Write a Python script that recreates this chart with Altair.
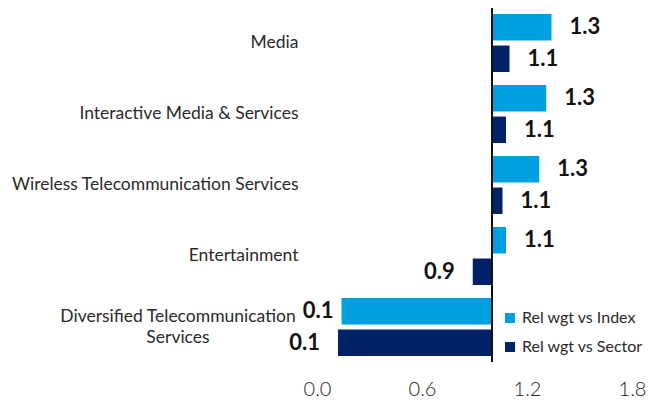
import altair as alt
import pandas as pd

categories = ["Media", "Interactive Media & Services", "Wireless Telecommunication Services",
              "Entertainment", "Diversified Telecommunication Services"]
series = ["Rel wgt vs Index", "Rel wgt vs Sector"]
vs_index = [1.34, 1.31, 1.27, 1.08, 0.14]
vs_sector = [1.10, 1.08, 1.06, 0.89, 0.12]
x_ticks = [0.0, 0.6, 1.2, 1.8]
baseline = 1.0

rows = []
for c, a, b in zip(categories, vs_index, vs_sector):
    rows.append({"cat": c, "series": series[0], "value": a})
    rows.append({"cat": c, "series": series[1], "value": b})
df = pd.DataFrame(rows)

FONT = "Lato"
colors = ["#009FDF", "#012169"]

yscale = alt.Scale(domain=categories, paddingInner=0.183, paddingOuter=0.085)
y = alt.Y("cat:N", sort=categories, scale=yscale, title=None,
          axis=alt.Axis(ticks=False, domain=False, labelPadding=19, labelFontSize=17.5,
                        labelFont=FONT, labelFontWeight="normal", labelColor="#2a2a2a", labelLimit=400,
                        labelExpr="datum.value == 'Diversified Telecommunication Services' ? '' : datum.value"))
yoff = alt.YOffset("series:N", sort=series, scale=alt.Scale(domain=series, paddingInner=0.16))
xscale = alt.Scale(domain=[0, 1.8], nice=False, zero=False)
x = alt.X("value:Q", scale=xscale, title=None,
          axis=alt.Axis(values=x_ticks, format=".1f", ticks=False, domain=False, grid=False,
                        labelFontSize=20, labelFont=FONT, labelFontWeight=300, labelColor="#222222",
                        labelPadding=17, labelFlush=False, labelOverlap=False))

bars = alt.Chart(df).mark_bar().encode(
    x=x,
    x2=alt.datum(baseline),
    y=y,
    yOffset=yoff,
    color=alt.Color("series:N", sort=series, scale=alt.Scale(domain=series, range=colors),
                    legend=alt.Legend(title=None, orient="none", legendX=185, legendY=302,
                                      symbolType="square", symbolSize=100, symbolStrokeWidth=0,
                                      labelFont=FONT, labelFontWeight="normal", labelFontSize=16,
                                      labelColor="#2a2a2a", rowPadding=13, labelOffset=4)),
)

def value_labels(cond, align, dx):
    return alt.Chart(df).transform_filter(cond).mark_text(
        align=align, baseline="middle", dx=dx, font=FONT, fontSize=22, fontWeight="bold", color="#111111"
    ).encode(x="value:Q", y=alt.Y("cat:N", sort=categories), yOffset=yoff,
             text=alt.Text("value:Q", format=".1f"))

lab_hi = value_labels(f"datum.value >= {baseline}", "left", 18)
lab_lo_idx = value_labels(f"datum.value < {baseline} && datum.series == '{series[0]}'", "right", -8)
lab_lo_sec = value_labels(f"datum.value < {baseline} && datum.series == '{series[1]}'", "right", -18)

rule = alt.Chart(df).mark_rule(color="#111111", strokeWidth=2).encode(x=alt.datum(baseline))

wrap_df = pd.DataFrame({"cat": [categories[-1]], "txt": [["Diversified Telecommunication", "Services"]]})
wrap = alt.Chart(wrap_df).mark_text(
    align="center", baseline="middle", font=FONT, fontSize=17.5, fontWeight="normal", color="#2a2a2a",
    lineHeight=21, dy=-10
).encode(x=alt.value(-139), y=alt.Y("cat:N", sort=categories), text="txt")

chart = alt.layer(bars, rule, lab_hi, lab_lo_idx, lab_lo_sec, wrap).properties(
    width=315, height=354,
    autosize=alt.AutoSizeParams(type="none"),
    padding={"left": 309, "top": 0, "right": 14, "bottom": 36},
).configure_view(stroke=None)

chart.save("out.html", embed_options={"renderer": "svg", "actions": False})
